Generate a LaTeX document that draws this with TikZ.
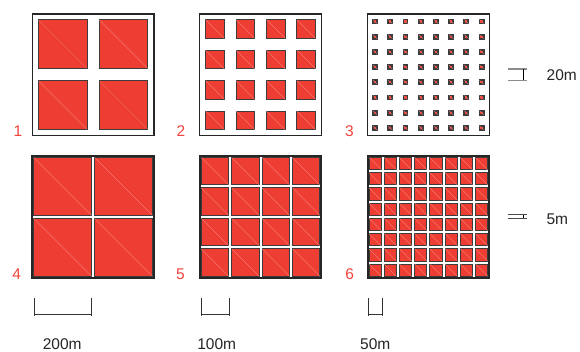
\documentclass[tikz,border=0pt]{standalone}
\usepackage{fontspec}
\setmainfont{Liberation Sans}
\definecolor{plotred}{HTML}{EE3D32}
\definecolor{cellline}{HTML}{3C3C3C}
\definecolor{diagpink}{HTML}{F5877E}
\definecolor{labelred}{HTML}{F0453C}
\tikzset{
	cell/.style={fill=plotred, draw=cellline, line width=0.9pt},
	diag/.style={draw=diagpink, line width=0.35pt},
	num/.style={text=labelred, font=\fontsize{15.5}{18}\selectfont, inner sep=0pt},
	lbl/.style={text=black!85, font=\fontsize{15.5}{18}\selectfont, inner sep=0pt},
	bar/.style={draw=black!80, line width=0.9pt},
	tick/.style={draw=black!45, line width=1.2pt},
}
% #1,#2 top left, #3 cells per side, #4 inset, #5 frame width, #6 cell line width
\newcommand{\plotgrid}[6]{%
	\pgfmathsetmacro\pitch{121.7/#3}
	\foreach \i in {1,...,#3} {
		\foreach \j in {1,...,#3} {
			\pgfmathsetmacro\xl{#1+(\i-1)*\pitch+#4}
			\pgfmathsetmacro\xr{#1+\i*\pitch-#4}
			\pgfmathsetmacro\yt{#2+(\j-1)*\pitch+#4}
			\pgfmathsetmacro\yb{#2+\j*\pitch-#4}
			\draw[cell, line width=#6] (\xl,\yt) rectangle (\xr,\yb);
			\draw[diag] (\xl,\yt) -- (\xr,\yb);
		}
	}
	\draw[draw=black!85, line width=#5] (#1,#2) rectangle ++(121.7,121.7);
}
\begin{document}
\begin{tikzpicture}[x=1pt, y=-1pt]
		\useasboundingbox[fill=white] (0,0) rectangle (580,351);
		
		% Obere Reihe
		\plotgrid{32.3}{13.8}{2}{6.1}{1.4pt}{0.9pt}
		\plotgrid{199.7}{13.8}{4}{5.9}{1.4pt}{0.9pt}
		\plotgrid{367.5}{13.8}{8}{5.6}{1.4pt}{1.8pt}
		
		% Untere Reihe
		\plotgrid{32.3}{156}{2}{1.5}{2pt}{0.9pt}
		\plotgrid{199.7}{156}{4}{1.5}{2pt}{0.9pt}
		\plotgrid{367.5}{156}{8}{1.5}{2pt}{0.9pt}
		
		% Nummern
		\node[num] (num1) at (18,131) {1};
		\node[num] (num2) at (181,131) {2};
		\node[num] (num3) at (349.5,131) {3};
		\node[num] (num4) at (16.7,274) {4};
		\node[num] (num5) at (180.5,274) {5};
		\node[num] (num6) at (349.7,274) {6};
		
		% Massstab 200m
		\draw[bar] (34.3,298.3) -- (34.3,315.7) (91,298.3) -- (91,315.7) (34.3,314) -- (91,314);
		\node[lbl] (len200) at (62.2,343.7) {200m};
		
		% Massstab 100m
		\draw[bar] (201,298.3) -- (201,315.7) (229,298.3) -- (229,315.7) (201,314) -- (229,314);
		\node[lbl] (len100) at (216.7,343.7) {100m};
		
		% Massstab 50m
		\draw[bar] (368.3,298.3) -- (368.3,315.7) (382.7,298.3) -- (382.7,315.7) (368.3,314) -- (382.7,314);
		\node[lbl] (len50) at (375.3,343.7) {50m};
		
		% Abstand 20m
		\draw[tick] (508.3,69) -- (526.7,69) (508.3,80.3) -- (526.7,80.3);
		\draw[bar, draw=black] (523.3,69) -- (523.3,80.3);
		\node[lbl] (gap20) at (561.8,75.3) {20m};
		
		% Abstand 5m
		\draw[tick, draw=black!70, line width=1pt] (508.3,214.7) -- (526.7,214.7) (508.3,218.3) -- (526.7,218.3);
		\draw[bar, draw=black] (523.3,214.7) -- (523.3,218.3);
		\node[lbl] (gap5) at (557.3,219) {5m};
	\end{tikzpicture}
\end{document}
